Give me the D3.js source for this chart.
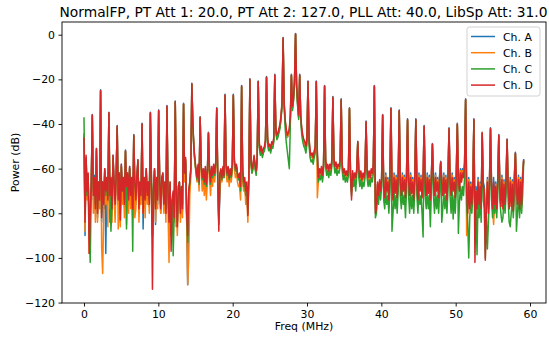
<!DOCTYPE html>
<html>
<head>
<meta charset="utf-8">
<script src="https://cdn.jsdelivr.net/npm/d3@7"></script>
<style>
  body { margin: 0; background: #fff; }
  svg { display: block; font-family: "DejaVu Sans", sans-serif; }
</style>
</head>
<body>
<div id="chart"></div>
<script>
// every channel sampled every freqStep MHz from 0
// one row per comb period (8 samples), each row starts on a comb line
const freqStep = 0.1395;

const chA = [
  -45,-90,-55,-72,-63,-88,-78,-68,
  -35.7,-74,-63,-80,-51,-82,-67,-75,
  -24.7,-84,-66,-78,-60,-98,-65,-75,
  -34.7,-84,-65,-79,-54,-68,-78,-64,
  -40.7,-76,-63,-84,-58,-72,-65,-77,
  -51.7,-70,-63,-76,-59,-74,-65,-78,
  -44.7,-68,-76,-64,-56,-80,-67,-74,
  -39.7,-87,-65,-76,-60,-74,-67,-77,
  -34.7,-66,-90,-72,-60,-85,-65,-76,
  -33.7,-68,-80,-65,-62,-78,-67,-80,
  -31.7,-72,-84,-67,-86,-76,-71,-82,
  -29.7,-86,-84,-69,-66,-80,-69,-79,
  -30.7,-64,-56,-82,-112,-72,-67,-61,
  -21.7,-41,-51,-57,-61,-65,-59,-67,
  -36.7,-59,-65,-61,-67,-60,-68,-62,
  -43.7,-61,-67,-60,-64,-59,-63,-58,
  -32.7,-66,-85,-73,-61,-65,-60,-64,
  -26.7,-59,-63,-60,-65,-61,-64,-59,
  -26.7,-57,-61,-59,-63,-65,-63,-70,
  -22.7,-62,-68,-66,-72,-68,-76,-63,
  -19.7,-57,-61,-59,-54.7,-59,-62,-56,
  -20.7,-49,-53,-51,-54,-52,-51,-48,
  -18.7,-47,-51,-50,-52,-49,-50,-47,
  -17.7,-43,-46,-45,-43,-41,-37,-31,
  -1.2,-31,-39,-43,-46,-45,-43,-37,
  -17.7,-33,-29,-21,0.6,-23,-31,-37,
  -17.7,-37,-43,-46,-48,-49,-51,-47,
  -20.7,-47,-53,-55,-54,-56,-53,-51,
  -20.7,-53,-65,-61,-63,-60,-64,-59,
  -22.7,-57,-61,-59,-62,-59,-61,-57,
  -27.7,-56,-60,-58,-61,-59,-60,-57,
  -28.7,-59,-63,-61,-64,-62,-64,-61,
  -32.7,-63,-70,-62,-66,-63,-65,-61,
  -47.7,-61,-65,-62,-66,-63,-65,-61,
  -38.7,-61,-65,-62,-65,-61,-63,-59,
  -22.7,-76,-74,-67,-72,-66,-70,-64,
  -35.7,-66,-72,-62,-70,-64,-73,-62,
  -32.7,-64,-73,-62,-70,-63,-72,-62,
  -33.7,-64,-71,-62,-69,-63,-72,-62,
  -37.7,-63,-71,-62,-70,-64,-73,-62,
  -37.7,-64,-73,-62,-69,-63,-72,-62,
  -40.7,-64,-71,-62,-70,-63,-73,-62,
  -48.7,-63,-71,-62,-69,-64,-72,-62,
  -56.7,-64,-71,-62,-70,-63,-73,-62,
  -41.7,-63,-71,-62,-69,-64,-72,-61,
  -39.7,-62,-69,-60,-65,-60,-63,-57,
  -28.7,-68,-78,-64,-76,-66,-74,-64,
  -37.7,-86,-68,-76,-64,-74,-66,-76,
  -43.7,-66,-68,-84,-76,-64,-78,-65,
  -41.7,-66,-76,-64,-74,-66,-76,-64,
  -44.7,-66,-75,-63,-76,-65,-74,-63,
  -46.7,-66,-76,-64,-75,-65,-77,-63,
  -52.7,-66,-74,-63,-76,-64,-74,-62,
  -55.7
];
const chB = [
  -44,-88,-56,-74,-64,-98,-84,-70,
  -36.2,-80,-66,-84,-51.5,-84,-70,-78,
  -25.2,-95,-107,-80,-61,-76,-68,-86,
  -35.2,-78,-68,-84,-55,-72,-84,-66,
  -41.2,-87,-66,-86,-59,-76,-68,-82,
  -52.2,-85,-66,-80,-60,-78,-68,-82,
  -45.2,-82,-78,-68,-57,-84,-70,-76,
  -40.2,-80,-68,-82,-61,-76,-70,-80,
  -35.2,-70,-90,-74,-61,-84,-68,-78,
  -34.2,-72,-80,-68,-63,-80,-70,-84,
  -32.2,-78,-102,-70,-90,-80,-74,-84,
  -30.2,-78,-90,-72,-68,-84,-72,-82,
  -31.2,-66,-56,-84,-112,-100,-72,-64,
  -22.2,-42,-52,-58,-62,-66,-62,-70,
  -37.2,-62,-70,-64,-72,-64,-74,-66,
  -44.2,-64,-72,-63,-68,-62,-66,-60,
  -33.2,-68,-84,-70,-62,-66,-61,-64,
  -27.2,-62,-66,-62,-68,-63,-66,-61,
  -27.2,-60,-64,-62,-66,-68,-68,-74,
  -23.2,-66,-70,-68,-76,-72,-84,-66,
  -20.2,-58,-62,-60,-55,-60,-62,-56,
  -21.2,-49,-53,-51,-54,-52,-51,-48,
  -19.2,-47,-51,-50,-52,-49,-50,-47,
  -18.2,-43,-46,-45,-43,-41,-37,-31,
  -1.7,-31,-39,-43,-46,-45,-43,-37,
  -18.2,-33,-29,-21,0.2,-23,-31,-37,
  -18.2,-37,-43,-46,-48,-49,-51,-47,
  -21.2,-47,-53,-55,-54,-56,-53,-51,
  -21.2,-73,-66,-62,-63,-60,-64,-59,
  -23.2,-57,-61,-59,-62,-59,-61,-57,
  -28.2,-56,-60,-58,-61,-59,-60,-57,
  -29.2,-59,-63,-61,-64,-62,-64,-61,
  -33.2,-63,-70,-62,-66,-63,-65,-61,
  -48.2,-61,-65,-62,-66,-63,-65,-61,
  -39.2,-61,-65,-62,-65,-61,-63,-59,
  -23.2,-78,-76,-67,-72,-66,-71,-65,
  -36.2,-68,-73,-63,-71,-65,-74,-63,
  -33.2,-66,-74,-63,-71,-64,-73,-63,
  -34.2,-66,-72,-63,-70,-64,-73,-63,
  -38.2,-65,-72,-63,-71,-65,-74,-63,
  -38.2,-66,-74,-63,-70,-64,-73,-63,
  -41.2,-66,-72,-63,-71,-64,-74,-63,
  -49.2,-65,-72,-63,-70,-65,-73,-63,
  -57.2,-66,-72,-63,-71,-64,-74,-63,
  -42.2,-65,-72,-63,-70,-65,-73,-62,
  -40.2,-64,-70,-61,-66,-61,-64,-58,
  -29.2,-90,-80,-65,-78,-67,-76,-65,
  -38.2,-84,-70,-78,-65,-76,-67,-78,
  -43.8,-68,-70,-86,-78,-65,-80,-66,
  -42.2,-68,-78,-85,-76,-67,-78,-65,
  -45.2,-68,-77,-64,-78,-66,-76,-64,
  -47.2,-68,-78,-65,-77,-66,-79,-64,
  -53.2,-68,-76,-64,-78,-65,-77,-63,
  -56.4
];
const chC = [
  -37,-80,-56,-72,-64,-86,-102,-68,
  -36.3,-70,-64,-76,-52,-78,-66,-72,
  -25.3,-80,-66,-74,-61,-72,-64,-72,
  -35.3,-70,-88,-76,-55,-66,-74,-63,
  -41.3,-72,-62,-80,-59,-70,-64,-74,
  -52.3,-87,-62,-72,-60,-70,-64,-97,
  -45.3,-66,-72,-63,-57,-76,-66,-70,
  -40.3,-76,-64,-72,-61,-70,-66,-74,
  -35.3,-64,-84,-68,-61,-76,-64,-72,
  -34.3,-66,-76,-64,-63,-74,-66,-78,
  -32.3,-70,-82,-66,-90,-74,-99,-80,
  -30.3,-72,-84,-68,-66,-78,-68,-76,
  -31.3,-62,-57,-80,-93,-70,-66,-60,
  -22.3,-41,-51,-57,-61,-65,-59,-67,
  -37.3,-59,-65,-61,-67,-60,-68,-62,
  -44.3,-61,-67,-60,-64,-59,-63,-58,
  -33.3,-65,-82,-63,-61,-65,-60,-64,
  -27.3,-59,-63,-60,-65,-61,-64,-59,
  -27.3,-57,-61,-59,-63,-65,-63,-70,
  -23.3,-62,-68,-66,-72,-68,-80,-63,
  -20.3,-58,-62,-60,-55,-60,-63,-57,
  -21.3,-50,-54,-52,-55,-53,-52,-49,
  -19.3,-48,-52,-51,-53,-50,-51,-48,
  -18.3,-44,-47,-46,-44,-42,-38,-32,
  -1.8,-32,-42,-48,-52,-56,-60,-40,
  -18.3,-34,-30,-22,0.1,-24,-32,-38,
  -18.3,-38,-45,-48,-50,-51,-53,-49,
  -21.3,-49,-55,-57,-56,-58,-55,-53,
  -21.3,-55,-66,-63,-65,-62,-66,-61,
  -23.3,-59,-63,-61,-64,-61,-63,-59,
  -28.3,-58,-62,-60,-63,-61,-62,-59,
  -29.3,-61,-65,-63,-66,-64,-66,-63,
  -33.3,-65,-72,-64,-68,-65,-70,-63,
  -48.3,-64,-68,-65,-69,-66,-68,-64,
  -39.3,-64,-68,-65,-68,-64,-66,-62,
  -23.3,-82,-80,-70,-76,-68,-74,-68,
  -36.3,-74,-78,-70,-76,-72,-80,-70,
  -33.3,-88,-80,-70,-78,-72,-80,-70,
  -34.3,-72,-78,-70,-76,-72,-82,-70,
  -38.3,-72,-80,-70,-78,-72,-80,-70,
  -38.3,-72,-80,-70,-76,-72,-80,-90.6,
  -41.3,-72,-78,-70,-78,-72,-86,-70,
  -49.3,-72,-80,-70,-78,-72,-80,-70,
  -57.3,-84,-78,-70,-78,-72,-80,-70,
  -42.3,-72,-80,-70,-82.6,-72,-80,-70,
  -40.3,-89,-76,-68,-74,-68,-72,-64,
  -29.3,-76,-84,-100,-82,-74,-80,-72,
  -38.3,-90,-76,-98.6,-74,-82,-74,-84,
  -44.3,-74,-78,-100,-80,-96,-84,-72,
  -42.3,-74,-82,-72,-80,-74,-82,-72,
  -45.3,-74,-80,-84,-82,-72,-80,-72,
  -47.3,-74,-84,-86,-80,-74,-82,-72,
  -53.3,-88,-80,-72,-82,-72,-80,-72,
  -56.6
];
const chD = [
  -46,-84,-54,-70,-62,-98,-80,-66,
  -36,-72,-64,-78,-51,-80,-66,-74,
  -25,-82,-66,-76,-60,-70,-64,-74,
  -35,-72,-64,-78,-54,-66,-76,-63,
  -41,-74,-62,-83,-58,-70,-64,-76,
  -52,-68,-62,-74,-59,-72,-64,-78,
  -45,-66,-74,-63,-56,-78,-66,-72,
  -40,-80,-64,-74,-60,-72,-66,-76,
  -35,-64,-114,-70,-60,-78,-64,-74,
  -34,-66,-78,-64,-62,-76,-66,-80,
  -32,-70,-84,-66,-97,-74,-70,-82,
  -30,-72,-86,-68,-66,-80,-68,-78,
  -31,-62,-55,-80,-90,-70,-66,-60,
  -22,-40,-50,-56,-60,-64,-58,-66,
  -37,-58,-64,-60,-66,-59,-67,-61,
  -44,-60,-66,-59,-63,-58,-62,-57,
  -33,-64,-88,-62,-60,-64,-59,-63,
  -27,-58,-62,-59,-64,-60,-63,-58,
  -27,-56,-60,-58,-62,-64,-62,-68,
  -23,-60,-66,-64,-70,-66,-81,-62,
  -20,-56,-60,-58,-54,-58,-61,-55,
  -21,-48,-52,-50,-53,-51,-50,-47,
  -19,-46,-50,-49,-51,-48,-49,-46,
  -18,-42,-45,-44,-42,-40,-36,-30,
  -1.5,-30,-38,-42,-45,-44,-42,-36,
  -18,-32,-28,-20,0.4,-22,-30,-36,
  -18,-36,-42,-45,-47,-48,-50,-46,
  -21,-46,-52,-54,-53,-55,-52,-50,
  -21,-52,-64,-60,-62,-59,-63,-58,
  -23,-56,-60,-58,-61,-58,-60,-56,
  -28,-55,-59,-57,-60,-58,-59,-56,
  -29,-58,-62,-60,-63,-61,-63,-60,
  -33,-62,-74,-61,-65,-62,-64,-60,
  -48,-60,-64,-61,-65,-62,-64,-60,
  -39,-60,-64,-61,-64,-60,-62,-58,
  -23,-80,-78,-66,-72,-65,-70,-64,
  -36,-68,-73,-64,-70,-66,-74,-63,
  -33,-66,-74,-64,-71,-65,-73,-63,
  -34,-66,-72,-64,-70,-65,-73,-64,
  -38,-65,-72,-64,-71,-66,-74,-64,
  -38,-66,-74,-64,-70,-65,-73,-63,
  -41,-66,-72,-64,-71,-65,-74,-64,
  -49,-65,-72,-64,-70,-66,-73,-64,
  -57,-66,-72,-64,-71,-65,-74,-64,
  -42,-65,-72,-64,-70,-66,-73,-63,
  -40,-64,-70,-62,-66,-62,-64,-58,
  -29,-70,-80,-66,-78,-68,-76,-66,
  -38,-102,-70,-78,-66,-76,-68,-78,
  -44,-68,-70,-101,-78,-66,-80,-67,
  -42,-68,-78,-66,-76,-68,-78,-66,
  -45,-68,-77,-65,-78,-67,-76,-65,
  -47,-68,-78,-66,-77,-67,-79,-65,
  -53,-68,-76,-65,-78,-66,-76,-64,
  -56
];

const seriesNames = ['Ch. A', 'Ch. B', 'Ch. C', 'Ch. D'];
const seriesColors = ['#1f77b4', '#ff7f0e', '#2ca02c', '#d62728'];
const xTicks = [0, 10, 20, 30, 40, 50, 60];
const yTicks = [0, -20, -40, -60, -80, -100, -120];
const title = 'NormalFP, PT Att 1: 20.0, PT Att 2: 127.0, PLL Att: 40.0, LibSp Att: 31.0';

const width = 549, height = 338;
const plotLeft = 62, plotRight = 546, plotTop = 22, plotBottom = 303;

const svg = d3.select('#chart').append('svg')
  .attr('width', width)
  .attr('height', height);

const x = d3.scaleLinear().domain([-2.96, 62.15]).range([plotLeft, plotRight]);
const y = d3.scaleLinear().domain([-120.2, 5.7]).range([plotBottom, plotTop]);

const fmt = v => String(v).replace('-', '\u2212');

// lines, drawn A to D so Ch. D ends up on top
const line = d3.line()
  .x((d, i) => x(i * freqStep))
  .y(d => y(d));

[chA, chB, chC, chD].forEach((values, k) => {
  svg.append('path')
    .datum(values)
    .attr('fill', 'none')
    .attr('stroke', seriesColors[k])
    .attr('stroke-width', 1.5)
    .attr('stroke-linejoin', 'round')
    .attr('d', line);
});

// axes
svg.append('g')
  .attr('transform', 'translate(0,' + plotBottom + ')')
  .call(d3.axisBottom(x).tickValues(xTicks).tickFormat(fmt).tickSizeOuter(0).tickSize(3.5).tickPadding(3.5))
  .call(g => g.select('.domain').remove())
  .selectAll('text').attr('font-size', 10.9).attr('font-family', 'DejaVu Sans').attr('fill', '#000');

svg.append('g')
  .attr('transform', 'translate(' + plotLeft + ',0)')
  .call(d3.axisLeft(y).tickValues(yTicks).tickFormat(fmt).tickSizeOuter(0).tickSize(3.5).tickPadding(3.5))
  .call(g => g.select('.domain').remove())
  .selectAll('text').attr('font-size', 10.9).attr('font-family', 'DejaVu Sans').attr('fill', '#000');

svg.selectAll('.tick line').attr('stroke', '#000').attr('stroke-width', 0.9);

// frame
svg.append('rect')
  .attr('x', plotLeft).attr('y', plotTop)
  .attr('width', plotRight - plotLeft).attr('height', plotBottom - plotTop)
  .attr('fill', 'none').attr('stroke', '#000').attr('stroke-width', 0.9);

// labels
svg.append('text')
  .attr('x', 303.5).attr('y', 17)
  .attr('text-anchor', 'middle').attr('font-size', 13.8)
  .text(title);

svg.append('text')
  .attr('x', (plotLeft + plotRight) / 2).attr('y', 330)
  .attr('text-anchor', 'middle').attr('font-size', 10.9)
  .text('Freq (MHz)');

svg.append('text')
  .attr('transform', 'translate(19,' + (plotTop + plotBottom) / 2 + ') rotate(-90)')
  .attr('text-anchor', 'middle').attr('font-size', 10.9)
  .text('Power (dB)');

// legend
const legend = svg.append('g');
legend.append('rect')
  .attr('x', 467).attr('y', 27)
  .attr('width', 73).attr('height', 69)
  .attr('rx', 2.5)
  .attr('fill', '#fff').attr('fill-opacity', 0.8)
  .attr('stroke', '#ccc').attr('stroke-width', 0.9);

seriesNames.forEach((name, k) => {
  const ly = 36.5 + k * 16.2;
  legend.append('line')
    .attr('x1', 471).attr('x2', 495)
    .attr('y1', ly).attr('y2', ly)
    .attr('stroke', seriesColors[k]).attr('stroke-width', 1.5);
  legend.append('text')
    .attr('x', 503).attr('y', ly + 4)
    .attr('font-size', 10.9)
    .text(name);
});
</script>
</body>
</html>
